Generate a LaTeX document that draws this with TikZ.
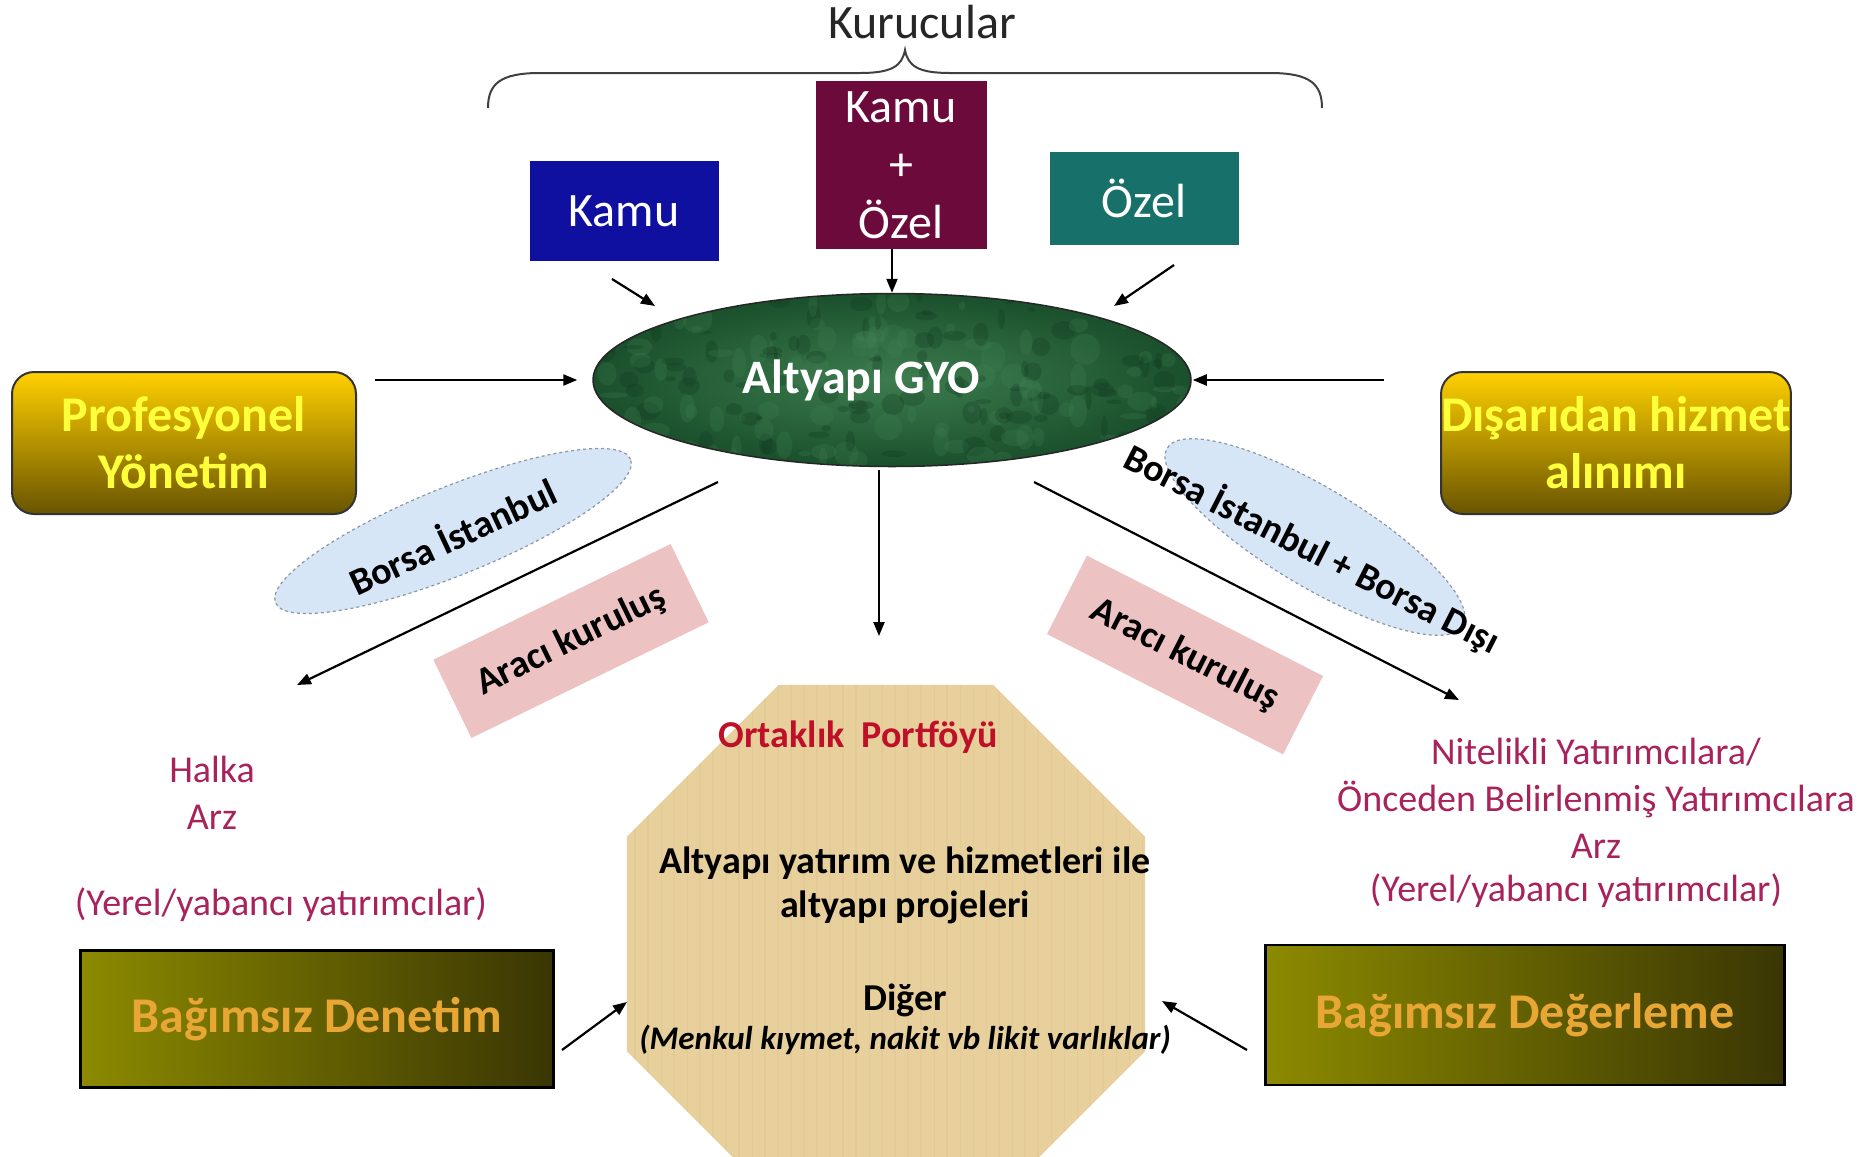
\documentclass[tikz,border=0pt]{standalone}
\usepackage{fontspec}
\setmainfont{Carlito}
\usetikzlibrary{arrows.meta,shapes.geometric,calc}

\definecolor{kamuBlue}{RGB}{16,16,160}
\definecolor{karmaMaroon}{RGB}{108,10,60}
\definecolor{ozelTeal}{RGB}{24,112,106}
\definecolor{gyoGreen}{RGB}{26,80,44}
\definecolor{gyoLight}{RGB}{70,135,88}
\definecolor{gyoDark}{RGB}{14,52,28}
\definecolor{goldTop}{RGB}{255,208,0}
\definecolor{goldBottom}{RGB}{105,84,0}
\definecolor{profText}{RGB}{255,255,60}
\definecolor{borsaBlue}{RGB}{214,230,246}
\definecolor{borsaEdge}{RGB}{140,150,165}
\definecolor{araciPink}{RGB}{236,194,194}
\definecolor{papyrus}{RGB}{232,208,156}
\definecolor{papyrusLine}{RGB}{200,172,118}
\definecolor{portRed}{RGB}{190,16,40}
\definecolor{arzText}{RGB}{168,34,92}
\definecolor{oliveLeft}{RGB}{140,138,0}
\definecolor{oliveRight}{RGB}{58,54,4}
\definecolor{denetimText}{RGB}{232,166,52}

\tikzset{
  arr/.style={line width=2.2pt,-{Triangle[length=14pt,width=11pt]}},
  kurucuBox/.style={rectangle,inner sep=0pt,text=white,font=\fontsize{48}{58}\selectfont,align=center},
  goldBox/.style={rectangle,rounded corners=22pt,draw=black!80,line width=2pt,top color=goldTop,bottom color=goldBottom,
    minimum width=344pt,minimum height=142pt,inner sep=0pt,text=profText,font=\bfseries\fontsize{50}{57}\selectfont,align=center},
  oliveBox/.style={rectangle,draw=black,line width=2.5pt,left color=oliveLeft,right color=oliveRight,inner sep=0pt,
    text=denetimText,font=\bfseries\fontsize{50}{58}\selectfont},
  borsaEll/.style={ellipse,fill=borsaBlue,draw=borsaEdge,dashed,line width=1.2pt,inner sep=0pt},
  borsaText/.style={inner sep=0pt,font=\bfseries\fontsize{38}{46}\selectfont},
  araciBox/.style={rectangle,fill=araciPink,inner sep=0pt,font=\bfseries\fontsize{38}{46}\selectfont},
  arzLabel/.style={text=arzText,font=\fontsize{38}{47}\selectfont,align=center,inner sep=0pt},
}

\begin{document}
\begin{tikzpicture}[x=1pt,y=1pt,yscale=-1,xscale=1]
\useasboundingbox (0,0) rectangle (1875,1157);
\clip (0,0) rectangle (1875,1157);

%Curve Lines (brace over the founders)
\draw [color=black!75,line width=2pt] (488,108) .. controls (488,84) and (500,73) .. (540,73) -- (860,73) .. controls (892,73) and (902,66) .. (905,50) .. controls (908,66) and (918,73) .. (950,73) -- (1270,73) .. controls (1310,73) and (1322,84) .. (1322,108) ;

% Text Node
\node [inner sep=0pt,text=black!85,font=\fontsize{48}{58}\selectfont] (kurucular) at (922,22) {Kurucular};

% founders
\node [kurucuBox,fill=kamuBlue,minimum width=189pt,minimum height=100pt] (kamu) at (624,211) {Kamu};
\node [kurucuBox,fill=karmaMaroon,minimum width=171pt,minimum height=168pt] (kamuozel) at (901,165) {Kamu\\+\\Özel};
\node [kurucuBox,fill=ozelTeal,minimum width=189pt,minimum height=93pt] (ozel) at (1144,198) {Özel};

% Altyapi GYO
\node [ellipse,draw=black!85,line width=1.5pt,inner color=gyoLight!80!gyoGreen,outer color=gyoGreen,minimum width=598pt,minimum height=173pt,inner sep=0pt,
  path picture={\pgfmathsetseed{5}
    \foreach \i in {1,...,110}{
      \fill [gyoLight,opacity=0.22] ([shift={({(rnd-0.5)*590},{(rnd-0.5)*170})}]path picture bounding box.center) ellipse [x radius={3+rnd*12}, y radius={2+rnd*14}];
      \fill [gyoDark,opacity=0.25] ([shift={({(rnd-0.5)*590},{(rnd-0.5)*170})}]path picture bounding box.center) ellipse [x radius={3+rnd*10}, y radius={2+rnd*10}];
    }},
  text=white,font=\bfseries\fontsize{48}{58}\selectfont] (gyo) at (892,380) {Altyapı GYO\hspace*{62pt}};

% management boxes
\node [goldBox] (prof) at (184,443) {Profesyonel\\Yönetim};
\node [goldBox] (disa) at (1616,443) {Dışarıdan hizmet\\alınımı};

% market ellipses
\node [borsaEll,rotate=22,minimum width=383pt,minimum height=88pt] (bist1) at (453,531) {};
\node [borsaText,rotate=25] (bist1Text) at (452,535) {Borsa İstanbul};
\node [borsaEll,rotate=-31,minimum width=345pt,minimum height=98pt] (bist2) at (1315,537) {};
\node [borsaText,rotate=-27] (bist2Text) at (1312,549) {Borsa İstanbul + Borsa Dışı};

% intermediaries
\node [araciBox,rotate=26,minimum width=264pt,minimum height=87pt] (araci1) at (571,641) {Aracı kuruluş};
\node [araciBox,rotate=-27,minimum width=265pt,minimum height=88pt] (araci2) at (1185,655) {Aracı kuruluş};

% portfolio octagon
\node [regular polygon,regular polygon sides=8,minimum size=561pt,inner sep=0pt,fill=papyrus,
  path picture={\pgfmathsetseed{11}
    \foreach \i in {1,...,45}{
      \pgfmathsetmacro{\lw}{0.6+rnd*1.4}
      \draw [papyrusLine,opacity=0.15,line width=\lw pt] ([xshift={-290+\i*13}]path picture bounding box.north) -- ([xshift={-290+\i*13}]path picture bounding box.south);
    }}] (portfoy) at (886,944) {};

% Text Node
\node [inner sep=0pt,text=portRed,font=\bfseries\fontsize{38}{46}\selectfont] (ortaklik) at (858,737) {Ortaklık~~Portföyü};
\node [inner sep=0pt,align=center,font=\bfseries\fontsize{38}{44}\selectfont] (altyapi) at (905,885) {Altyapı yatırım ve hizmetleri ile\\altyapı projeleri};
\node [inner sep=0pt,font=\bfseries\fontsize{38}{46}\selectfont] (diger) at (905,1000) {Diğer};
\node [inner sep=0pt,font=\bfseries\itshape\fontsize{33}{40}\selectfont] (menkul) at (905,1040) {(Menkul kıymet, nakit vb likit varlıklar)};

% offering texts
\node [arzLabel] (halka) at (212,793) {Halka\\Arz};
\node [arzLabel] (yerel1) at (281,905) {(Yerel/yabancı yatırımcılar)};
\node [arzLabel] (nitelikli) at (1596,798) {Nitelikli Yatırımcılara/\\Önceden Belirlenmiş Yatırımcılara\\Arz};
\node [arzLabel] (yerel2) at (1576,891) {(Yerel/yabancı yatırımcılar)};

% independent boxes
\node [oliveBox,minimum width=473pt,minimum height=137pt] (denetim) at (317,1019) {Bağımsız Denetim};
\node [oliveBox,minimum width=519pt,minimum height=140pt] (degerleme) at (1525,1015) {Bağımsız Değerleme};

% free arrow ends
\coordinate (kamuTail) at (612,279);
\coordinate (kamuTip) at (655,306);
\coordinate (ozelTail) at (1174,265);
\coordinate (ozelTip) at (1114,306);
\coordinate (halkaTail) at (718,482);
\coordinate (halkaTip) at (297,685);
\coordinate (portTip) at (879,636);
\coordinate (niteTail) at (1034,482);
\coordinate (niteTip) at (1459,700);
\coordinate (denetimTail) at (562,1050);
\coordinate (denetimTip) at (627,1002);
\coordinate (degerTail) at (1247,1050);
\coordinate (degerTip) at (1162,1001);

%Straight Lines
\draw [arr] (kamuTail) -- (kamuTip);
\draw [arr] (kamuozel.south -| gyo.north) -- (gyo.north);
\draw [arr] (ozelTail) -- (ozelTip);
\draw [arr,shorten <=18pt,shorten >=15pt] (prof.east |- gyo.west) -- (gyo.west);
\draw [arr,shorten <=56pt,shorten >=1pt] (disa.west |- gyo.east) -- (gyo.east);
\draw [arr] (halkaTail) -- (halkaTip);
\draw [arr,shorten <=3pt] (gyo.south -| portTip) -- (portTip);
\draw [arr] (niteTail) -- (niteTip);
\draw [arr] (denetimTail) -- (denetimTip);
\draw [arr] (degerTail) -- (degerTip);
\end{tikzpicture}
\end{document}
